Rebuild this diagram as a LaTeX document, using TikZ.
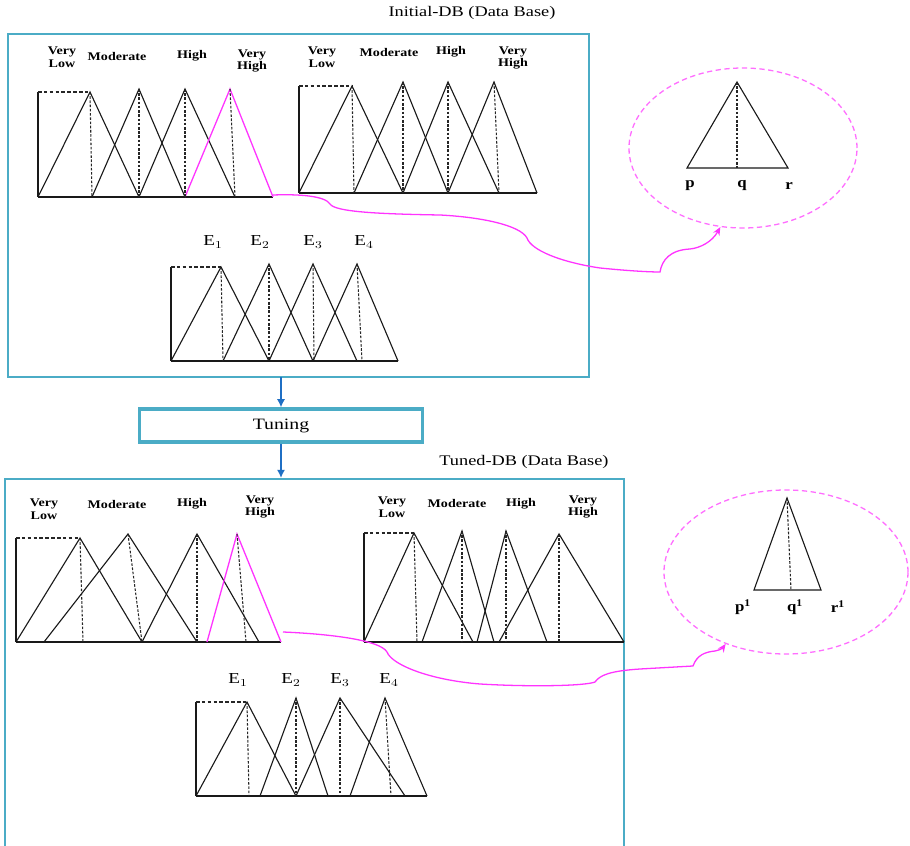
\documentclass[tikz,border=0pt]{standalone}
\usepackage{fontspec}
\setmainfont{Liberation Serif}
\usetikzlibrary{arrows.meta,shapes.geometric}

\definecolor{boxcyan}{HTML}{4BACC6}
\definecolor{arrblue}{HTML}{1F6FC4}
\definecolor{mfmag}{HTML}{FF33FF}
\definecolor{ellmag}{HTML}{FF6EFF}

\tikzset{
  mfline/.style={line width=0.95pt, black!90},
  mfmark/.style={line width=0.9pt, black!85, dash pattern=on 2.2pt off 1.4pt},
  rectmark/.style={line width=0.9pt, black!85, dash pattern=on 3pt off 2pt},
  mfhot/.style={line width=1.1pt, mfmag},
  dbframe/.style={line width=1.3pt, boxcyan},
  flowarr/.style={line width=1.4pt, arrblue, -{Latex[length=7pt,width=7pt]}},
  lbl/.style={font=\fontsize{10}{11}\selectfont\bfseries, align=center, xscale=1.2, inner sep=0pt},
  elbl/.style={font=\fontsize{13}{14}\selectfont, xscale=1.25, inner sep=0pt},
  plbl/.style={font=\fontsize{12.5}{13}\selectfont\bfseries, xscale=1.15, inner sep=0pt},
  ttl/.style={font=\fontsize{12.5}{13}\selectfont, xscale=1.25, inner sep=0pt},
  zoomell/.style={ellipse, draw=ellmag, line width=1.1pt, dash pattern=on 4.5pt off 3pt, inner sep=0pt},
  link/.style={line width=1.1pt, mfmag, -{Stealth[length=7pt,width=6pt]}}
}

\begin{document}
\begin{tikzpicture}[x=0.03cm, y=-0.03cm]
\useasboundingbox (0,0) rectangle (910,846);
\fill[white] (0,0) rectangle (910,846);

% ---------- Initial data base ----------
\node[ttl] (ttop) at (472,13) {Initial-DB (Data Base)};
\draw[dbframe] (8,34) rectangle (589,377);

% first input: Very Low .. Very High
\draw[mfline] (38,197) -- (38,92);
\draw[rectmark] (38,92) -- (90,92);
\draw[mfline] (38,197) -- (273,197);
\draw[mfline] (38,197) -- (90,92) -- (139,197);
\draw[mfline] (92,197) -- (139,89) -- (185,197);
\draw[mfline] (139,197) -- (185,89) -- (235,197);
\draw[mfhot] (185,197) -- (230,89) -- (273,197);
\draw[mfmark] (90,92) -- (92,197);
\draw[mfmark] (139,89) -- (139,197);
\draw[mfmark] (185,89) -- (185,197);
\draw[mfmark] (230,89) -- (235,197);
\node[lbl] (a1) at (62,57) {Very\\Low};
\node[lbl] (a2) at (117,56) {Moderate};
\node[lbl] (a3) at (192,56) {High};
\node[lbl] (a4) at (252,61) {Very\\High};
\coordinate (hot1) at (273,195);

% second input
\draw[mfline] (299,193) -- (299,86);
\draw[rectmark] (299,86) -- (352,86);
\draw[mfline] (299,193) -- (537,193);
\draw[mfline] (299,193) -- (352,86) -- (403,193);
\draw[mfline] (354,193) -- (403,82) -- (448,193);
\draw[mfline] (403,193) -- (448,82) -- (499,193);
\draw[mfline] (448,193) -- (494,82) -- (537,193);
\draw[mfmark] (352,86) -- (354,193);
\draw[mfmark] (403,82) -- (403,193);
\draw[mfmark] (448,82) -- (448,193);
\draw[mfmark] (494,82) -- (499,193);
\node[lbl] (b1) at (322,57) {Very\\Low};
\node[lbl] (b2) at (389,52) {Moderate};
\node[lbl] (b3) at (451,52) {High};
\node[lbl] (b4) at (513,58) {Very\\High};

% output: E1 .. E4
\draw[mfline] (171,361) -- (171,267);
\draw[rectmark] (171,267) -- (221,267);
\draw[mfline] (171,361) -- (398,361);
\draw[mfline] (171,361) -- (221,267) -- (269,361);
\draw[mfline] (223,361) -- (269,264) -- (313,361);
\draw[mfline] (269,361) -- (313,264) -- (357,361);
\draw[mfline] (313,361) -- (357,264) -- (398,361);
\draw[mfmark] (221,267) -- (223,361);
\draw[mfmark] (269,264) -- (269,361);
\draw[mfmark] (313,264) -- (314,361);
\draw[mfmark] (357,264) -- (362,361);
\node[elbl] (c1) at (213,242) {E$_1$};
\node[elbl] (c2) at (260,242) {E$_2$};
\node[elbl] (c3) at (313,242) {E$_3$};
\node[elbl] (c4) at (364,242) {E$_4$};

% single triangular set p, q, r
\node[zoomell, minimum width=6.84cm, minimum height=4.8cm] (ell1) at (743,148) {};
\draw[mfline] (687,168) -- (737,82) -- (788,168) -- cycle;
\draw[mfmark] (737,82) -- (737,168);
\node[plbl] (p1) at (690,186) {p};
\node[plbl] (q1) at (742,186) {q};
\node[plbl] (r1) at (789,186) {r};

\draw[link] (hot1) .. controls (300,194) and (325,196) .. (330,204)
  .. controls (335,212) and (380,214) .. (440,215)
  .. controls (480,217) and (520,225) .. (527,238)
  .. controls (531,250) and (560,262) .. (600,268)
  .. controls (630,271) and (650,272) .. (660,272)
  .. controls (662,260) and (670,250) .. (690,249)
  .. controls (700,248) and (712,242) .. (ell1.254);

% ---------- Tuning ----------
\coordinate (topout) at (281,377);
\coordinate (botin) at (281,478);
\node[draw=boxcyan, line width=3pt, minimum width=8.5cm, minimum height=0.98cm,
      font=\fontsize{13.5}{14}\selectfont] (tune) at (281,425.5) {\scalebox{1.25}[1]{Tuning}};
\draw[flowarr] (topout) -- (tune.north);
\draw[flowarr] (tune.south) -- (botin);

% ---------- Tuned data base ----------
\node[ttl] (tbot) at (524,462) {Tuned-DB (Data Base)};
\draw[dbframe] (5,848) -- (5,479) -- (624,479) -- (624,848);

% first input, tuned
\draw[mfline] (16,642) -- (16,538);
\draw[rectmark] (16,538) -- (80,538);
\draw[mfline] (16,642) -- (281,642);
\draw[mfline] (16,642) -- (80,538) -- (142,642);
\draw[mfline] (44,642) -- (128,534) -- (197,642);
\draw[mfline] (142,642) -- (197,534) -- (259,642);
\draw[mfhot] (207,642) -- (237,534) -- (281,642);
\draw[mfmark] (80,538) -- (83,642);
\draw[mfmark] (128,534) -- (142,642);
\draw[mfmark] (197,534) -- (197,642);
\draw[mfmark] (237,534) -- (246,642);
\node[lbl] (d1) at (44,509) {Very\\Low};
\node[lbl] (d2) at (117,504) {Moderate};
\node[lbl] (d3) at (192,504) {High};
\node[lbl] (d4) at (260,507) {Very\\High};
\coordinate (hot2) at (283,632);

% second input, tuned
\draw[mfline] (364,642) -- (364,533);
\draw[rectmark] (364,533) -- (414,533);
\draw[mfline] (364,642) -- (624,642);
\draw[mfline] (364,642) -- (414,533) -- (473,642);
\draw[mfline] (422,642) -- (462,531) -- (494,642);
\draw[mfline] (477,642) -- (506,531) -- (547,642);
\draw[mfline] (499,642) -- (559,534) -- (624,642);
\draw[mfmark] (414,533) -- (417,642);
\draw[mfmark] (462,531) -- (462,642);
\draw[mfmark] (506,531) -- (506,642);
\draw[mfmark] (559,534) -- (559,642);
\node[lbl] (e1) at (392,507) {Very\\Low};
\node[lbl] (e2) at (457,503) {Moderate};
\node[lbl] (e3) at (521,504) {High};
\node[lbl] (e4) at (583,507) {Very\\High};

% output, tuned
\draw[mfline] (196,796) -- (196,702);
\draw[rectmark] (196,702) -- (247,702);
\draw[mfline] (196,796) -- (427,796);
\draw[mfline] (196,796) -- (247,702) -- (296,796);
\draw[mfline] (260,796) -- (296,698) -- (328,796);
\draw[mfline] (296,796) -- (340,698) -- (405,796);
\draw[mfline] (350,796) -- (385,698) -- (427,796);
\draw[mfmark] (247,702) -- (249,796);
\draw[mfmark] (296,698) -- (296,796);
\draw[mfmark] (340,698) -- (340,796);
\draw[mfmark] (385,698) -- (391,796);
\node[elbl] (f1) at (238,680) {E$_1$};
\node[elbl] (f2) at (291,680) {E$_2$};
\node[elbl] (f3) at (340,680) {E$_3$};
\node[elbl] (f4) at (389,680) {E$_4$};

% single tuned set p1, q1, r1
\node[zoomell, minimum width=7.32cm, minimum height=4.92cm] (ell2) at (786,572) {};
\draw[mfline] (754,590) -- (787,498) -- (821,590) -- cycle;
\draw[mfmark] (787,498) -- (791,590);
\node[plbl] (p2) at (743,607) {p$^{\mathbf{1}}$};
\node[plbl] (q2) at (795,607) {q$^{\mathbf{1}}$};
\node[plbl] (r2) at (838,607) {r$^{\mathbf{1}}$};

\draw[link] (hot2) .. controls (330,634) and (380,640) .. (387,652)
  .. controls (392,665) and (430,680) .. (480,684)
  .. controls (530,687) and (585,686) .. (595,682)
  .. controls (600,675) and (610,671) .. (640,669)
  -- (693,666)
  .. controls (697,655) and (705,652) .. (715,651)
  .. controls (719,650) and (722,649) .. (ell2.230.6);
\end{tikzpicture}
\end{document}
